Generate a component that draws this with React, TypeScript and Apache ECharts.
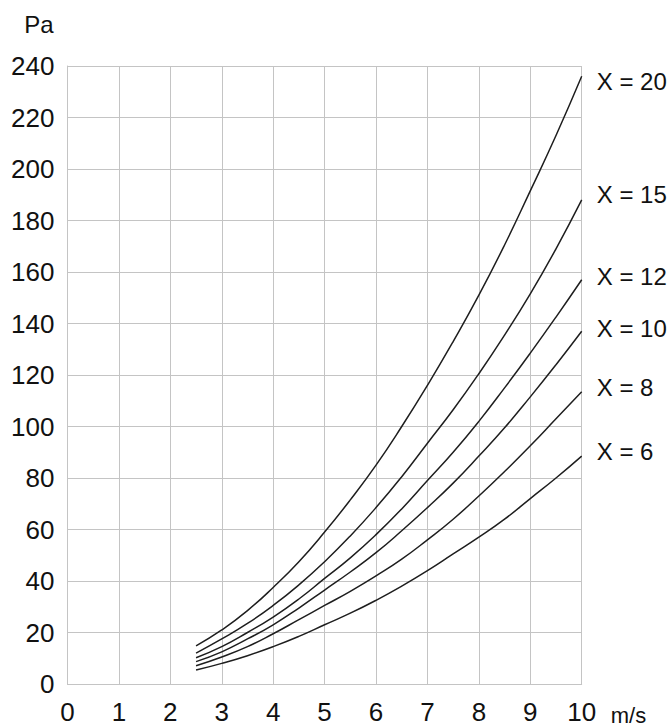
import React, { useEffect, useRef } from "react";
import * as echarts from "echarts";

const speeds = [2.5, 3, 3.5, 4, 4.5, 5, 5.5, 6, 6.5, 7, 7.5, 8, 8.5, 9, 9.5, 10];
const x20 = [14.8, 21, 28.5, 37.5, 47.5, 59, 71.5, 85, 100, 116, 133, 151, 170.5, 191.5, 213, 236];
const x15 = [12, 17.5, 23.5, 30.5, 38.5, 47.5, 57.5, 68.5, 80.5, 93.5, 106.5, 120.5, 135.5, 151.5, 169, 188];
const x12 = [10.2, 14.5, 20, 26, 33, 41, 49, 58, 68, 79, 90, 102, 115, 128.5, 142.5, 157];
const x10 = [8.7, 12.5, 17.5, 23, 29.5, 36.5, 43.5, 51, 59.5, 68.5, 78, 88.5, 99.5, 111.5, 124, 137];
const x8 = [7.1, 10.5, 14.5, 19.5, 25, 30.5, 36, 42, 48.5, 56, 64, 73, 82.5, 92.5, 103, 113.5];
const x6 = [5.4, 8, 11, 14.5, 18.5, 23, 27.5, 32.5, 38, 44, 50.5, 57, 64, 72, 80, 88.5];

const seriesNames = ["X = 20", "X = 15", "X = 12", "X = 10", "X = 8", "X = 6"];
const seriesValues = [x20, x15, x12, x10, x8, x6];
const labelDy = [5, -5, -3, -3, -4, -5];

const yTicks = [0, 20, 40, 60, 80, 100, 120, 140, 160, 180, 200, 220, 240];
const xTicks = [0, 1, 2, 3, 4, 5, 6, 7, 8, 9, 10];

const FONT = '"Liberation Sans", Arial, Helvetica, sans-serif';
const TEXT = "#111";
const GRID = "#c4c4c4";

export default function App() {
  const ref = useRef<HTMLDivElement>(null);
  useEffect(() => {
    if (!ref.current) return;
    const chart = echarts.init(ref.current, undefined, { renderer: "svg" });
    chart.setOption({
      animation: false,
      backgroundColor: "#ffffff",
      textStyle: { fontFamily: FONT },
      grid: { left: 67.5, right: 90.3, top: 66, bottom: 43, containLabel: false },
      xAxis: {
        type: "value",
        min: xTicks[0],
        max: xTicks[xTicks.length - 1],
        interval: 1,
        name: "m/s",
        nameLocation: "end",
        nameGap: 29,
        nameTextStyle: { fontSize: 22, color: TEXT, fontFamily: FONT, verticalAlign: "top", padding: [20, 0, 0, 0] },
        axisLine: { show: true, lineStyle: { color: GRID, width: 1 } },
        axisTick: { show: false },
        axisLabel: { fontSize: 26, color: TEXT, fontFamily: FONT, margin: 15 },
        splitLine: { show: true, lineStyle: { color: GRID, width: 1 } },
      },
      yAxis: {
        type: "value",
        min: yTicks[0],
        max: yTicks[yTicks.length - 1],
        interval: 20,
        name: "Pa",
        nameLocation: "end",
        nameGap: 30,
        nameTextStyle: { fontSize: 24, color: TEXT, fontFamily: FONT, align: "right", padding: [0, 14, 0, 0] },
        axisLine: { show: true, lineStyle: { color: GRID, width: 1 } },
        axisTick: { show: false },
        axisLabel: { fontSize: 26, color: TEXT, fontFamily: FONT, margin: 13, padding: [11, 0, 0, 0] },
        splitLine: { show: true, lineStyle: { color: GRID, width: 1 } },
      },
      series: seriesNames.map((name, i) => ({
        name,
        type: "line",
        smooth: true,
        symbol: "none",
        data: speeds.map((s, j) => [s, seriesValues[i][j]]),
        lineStyle: { color: "#1e1e1e", width: 1.5 },
        endLabel: {
          show: true,
          formatter: name,
          distance: 15,
          offset: [0, labelDy[i]],
          fontSize: 24,
          color: TEXT,
          fontFamily: FONT,
        },
      })),
    });
    return () => chart.dispose();
  }, []);
  return (
    <div
      ref={ref}
      style={{ position: "fixed", left: 0, top: 0, width: 672, height: 727, background: "#fff" }}
    />
  );
}
